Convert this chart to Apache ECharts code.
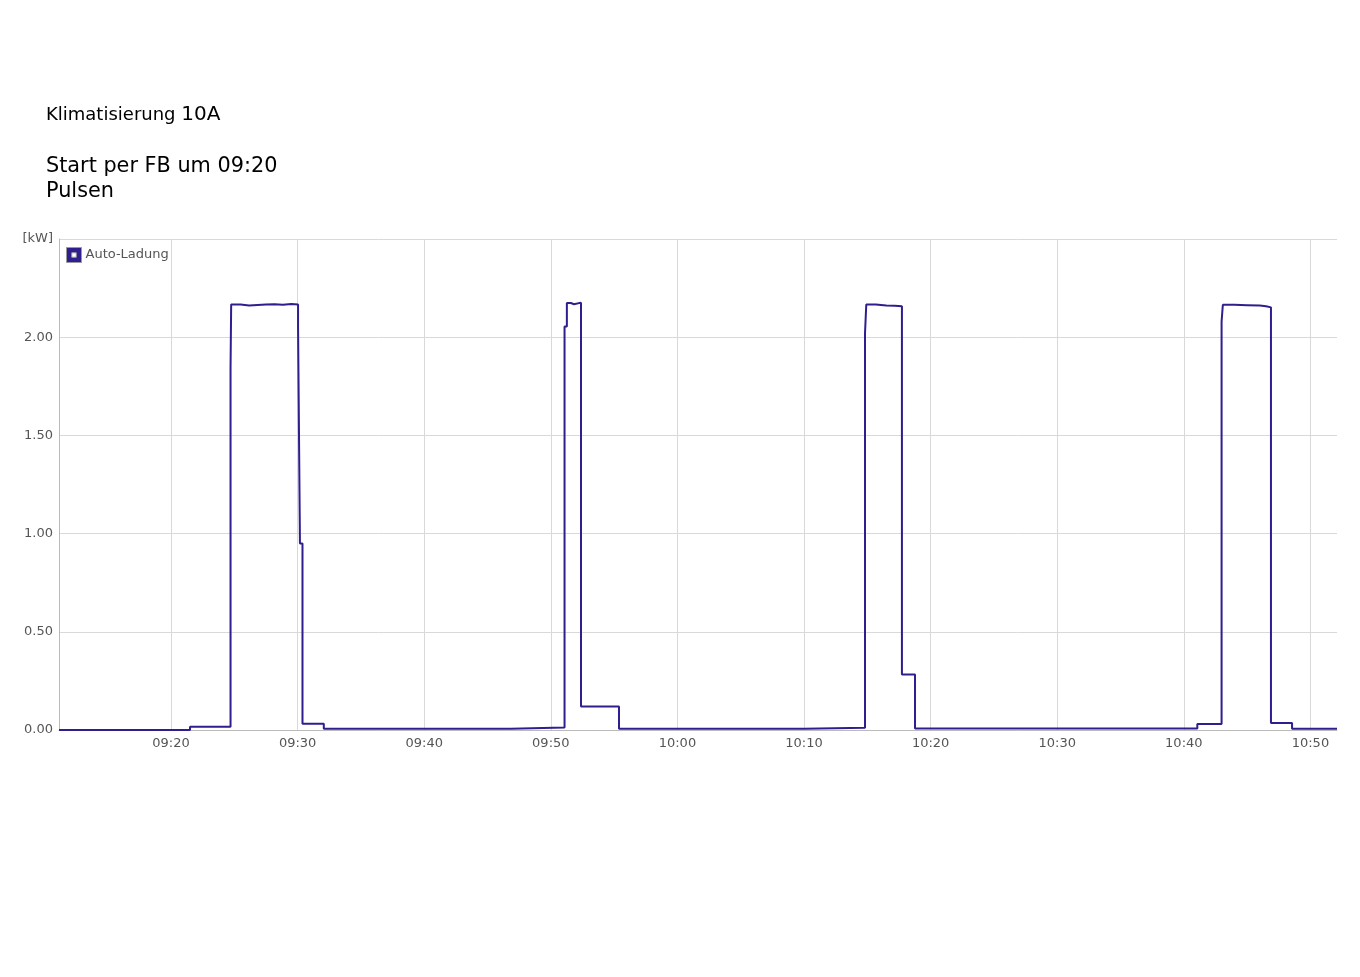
<!DOCTYPE html>
<html>
<head>
<meta charset="utf-8">
<script src="https://cdn.jsdelivr.net/npm/echarts@6/dist/echarts.min.js"></script>
<style>
html,body{margin:0;padding:0;background:#fff;}
#chart{width:1360px;height:977px;}
</style>
</head>
<body>
<div id="chart"></div>
<script>
// ---- data ----
var titleLine1 = 'Klimatisierung';
var titleLine1b = '10A';
var titleLine2 = 'Start per FB um 09:20';
var titleLine3 = 'Pulsen';
var seriesName = 'Auto-Ladung';
var unitLabel = '[kW]';
var axisStart = '09:11:09';
var axisEnd = '10:52:06';
var xTickLabels = ['09:20','09:30','09:40','09:50','10:00','10:10','10:20','10:30','10:40','10:50'];
var times = [
  '09:11:09','09:21:30','09:24:42','09:24:45','09:25:30','09:26:10','09:26:50','09:27:30','09:28:10','09:28:50','09:29:30',
  '09:30:02','09:30:11','09:30:23','09:32:04','09:46:50',
  '09:51:05','09:51:16','09:51:35','09:51:50','09:52:23','09:55:23',
  '10:10:01','10:14:49','10:14:55','10:15:40','10:16:30','10:17:10','10:17:44','10:18:46',
  '10:41:04','10:42:59','10:43:05','10:44:00','10:45:00','10:46:00','10:46:30','10:46:53','10:48:33','10:52:06'
];
var values = [
  0.000, 0.016, 1.840, 2.166, 2.162, 2.164, 2.166, 2.168, 2.165, 2.169, 2.166,
  2.050, 0.950, 0.032, 0.006, 0.013,
  2.055, 2.174, 2.168, 2.176, 0.120, 0.007,
  0.012, 2.020, 2.166, 2.161, 2.160, 2.158, 0.283, 0.008,
  0.031, 2.080, 2.165, 2.163, 2.161, 2.158, 2.152, 0.036, 0.007, 0.007
];
var yTicks = [0, 0.5, 1.0, 1.5, 2.0, 2.5];

// ---- build ----
// x values: seconds since midnight
function secs(s){
  var p = s.split(':');
  return (+p[0]) * 3600 + (+p[1]) * 60 + (+(p[2] || 0));
}
function pad(n){return (n<10?'0':'')+n;}
function fmt(v){
  var m = Math.round(v / 60);
  return pad(Math.floor(m / 60)) + ':' + pad(m % 60);
}
var data = times.map(function(t,i){return [secs(t), values[i]];});
var xTickValues = xTickLabels.map(secs);

var chart = echarts.init(document.getElementById('chart'));
var font = 'DejaVu Sans';
chart.setOption({
  animation: false,
  backgroundColor: '#ffffff',
  title: [
    {
      left: 41, top: 100,
      text: '{a|' + titleLine1 + ' }{b|' + titleLine1b + '}',
      textStyle: {
        rich: {
          a: {fontFamily: font, fontSize: 18, color: '#000', fontWeight: 'normal'},
          b: {fontFamily: font, fontSize: 20, color: '#000', fontWeight: 'normal'}
        }
      }
    },
    {
      left: 41, top: 149,
      text: titleLine2 + '\n' + titleLine3,
      textStyle: {fontFamily: font, fontSize: 20.8, lineHeight: 25, color: '#000', fontWeight: 'normal'}
    }
  ],
  legend: {
    left: 66, top: 247, padding: 0,
    itemWidth: 15, itemHeight: 15, itemGap: 10,
    data: [{
      name: seriesName,
      icon: 'path://M0,0H10V10H0Z M3.5,3.5V6.5H6.5V3.5Z',
      itemStyle: {color: '#2e1e8e', borderColor: '#9a9a9a', borderWidth: 1}
    }],
    textStyle: {fontFamily: font, fontSize: 13, color: '#555', padding: [0, 0, 0, -1]}
  },
  grid: {left: 59, right: 23, top: 239, bottom: 247, containLabel: false},
  xAxis: {
    type: 'value',
    min: secs(axisStart), max: secs(axisEnd),
    axisLine: {show: true, onZero: false, lineStyle: {color: '#bbbbbb', width: 1}},
    axisTick: {show: false, customValues: xTickValues},
    splitLine: {show: true, lineStyle: {color: '#d9d9d9', width: 1}},
    axisLabel: {
      margin: 7,
      customValues: xTickValues,
      fontFamily: font, fontSize: 13, color: '#555',
      formatter: function(v){ return fmt(v); }
    }
  },
  yAxis: {
    type: 'value',
    min: yTicks[0], max: yTicks[yTicks.length-1], interval: 0.5,
    axisLine: {show: true, onZero: false, lineStyle: {color: '#bbbbbb', width: 1}},
    axisTick: {show: false},
    splitLine: {show: true, lineStyle: {color: '#d9d9d9', width: 1}},
    axisLabel: {
      margin: 6,
      fontFamily: font, fontSize: 13, color: '#555',
      formatter: function(v){ return Math.abs(v - 2.5) < 1e-9 ? unitLabel : v.toFixed(2); }
    }
  },
  series: [{
    name: seriesName,
    type: 'line',
    step: 'end',
    showSymbol: false,
    symbol: 'none',
    data: data,
    lineStyle: {color: '#2e1e8e', width: 2},
    itemStyle: {color: '#2e1e8e'}
  }]
});
</script>
</body>
</html>
